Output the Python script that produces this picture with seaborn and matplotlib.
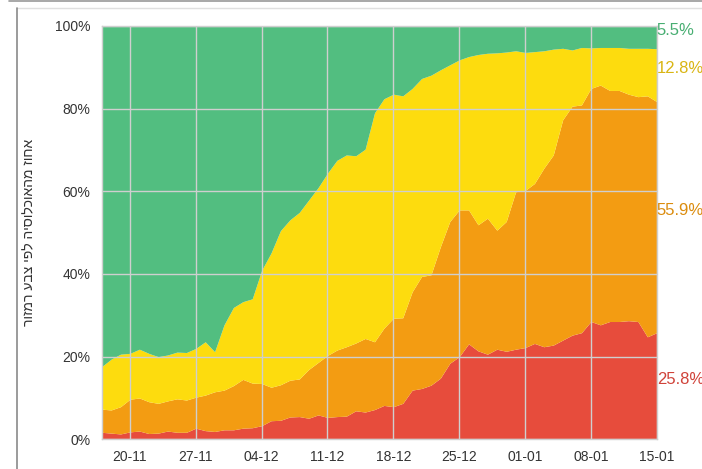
import seaborn as sns
import matplotlib.pyplot as plt
import matplotlib.dates as mdates
from matplotlib.lines import Line2D
import pandas as pd

# daily share of population by traffic-light colour (%), 17-11 .. 15-01
dates = pd.date_range('2020-11-17', '2021-01-15', freq='D')

red = [1.7, 1.5, 1.3, 1.8, 2.0, 1.4, 1.5, 2.0, 1.7, 1.7,
       2.7, 2.1, 1.9, 2.3, 2.3, 2.7, 2.8, 3.3, 4.5, 4.6,
       5.4, 5.5, 5.1, 5.9, 5.3, 5.5, 5.6, 6.9, 6.6, 7.2,
       8.2, 7.9, 8.7, 11.9, 12.3, 13.1, 14.8, 18.4, 20.0, 23.1,
       21.4, 20.6, 21.8, 21.3, 21.8, 22.2, 23.2, 22.4, 22.8, 24.0,
       25.2, 25.8, 28.5, 27.7, 28.5, 28.5, 28.7, 28.5, 24.8, 25.8]
orange = [5.6, 5.6, 6.6, 7.9, 8.0, 7.7, 7.2, 7.3, 8.1, 7.8,
          7.5, 8.6, 9.6, 9.6, 10.7, 11.8, 10.8, 10.2, 8.1, 8.6,
          8.9, 9.1, 11.8, 12.7, 15.0, 16.1, 16.8, 16.4, 17.8, 16.4,
          18.7, 21.4, 20.7, 23.8, 27.1, 26.7, 31.8, 34.3, 35.5, 32.4,
          30.5, 32.9, 28.8, 31.4, 38.1, 38.0, 38.7, 43.2, 46.0, 53.3,
          55.4, 55.1, 56.4, 58.0, 55.9, 55.9, 54.8, 54.4, 58.3, 55.9]
yellow = [10.3, 12.3, 12.7, 11.1, 11.8, 11.7, 11.3, 11.1, 11.3, 11.5,
          11.8, 12.9, 9.7, 15.8, 18.9, 18.8, 20.4, 27.4, 32.5, 37.3,
          38.8, 40.3, 41.0, 42.3, 44.1, 45.9, 46.4, 45.3, 45.8, 55.4,
          55.5, 54.2, 53.7, 49.2, 47.9, 48.3, 42.8, 37.9, 36.3, 37.1,
          41.2, 39.9, 42.9, 41.0, 34.1, 33.4, 31.9, 28.4, 25.6, 17.3,
          13.6, 13.9, 9.8, 9.1, 10.4, 10.4, 11.1, 11.7, 11.5, 12.8]
green = [82.4, 80.6, 79.4, 79.2, 78.2, 79.2, 80.0, 79.6, 78.9, 79.0,
         78.0, 76.4, 78.8, 72.3, 68.1, 66.7, 66.0, 59.1, 54.9, 49.5,
         46.9, 45.1, 42.1, 39.1, 35.6, 32.5, 31.2, 31.4, 29.8, 21.0,
         17.6, 16.5, 16.9, 15.1, 12.7, 11.9, 10.6, 9.4, 8.2, 7.4,
         6.9, 6.6, 6.5, 6.3, 6.0, 6.4, 6.2, 6.0, 5.6, 5.4,
         5.8, 5.2, 5.3, 5.2, 5.2, 5.2, 5.4, 5.4, 5.4, 5.5]

colors = ['#E74C3C', '#F39C12', '#FDDC0E', '#52BE80']
label_colors = ['#D0433A', '#DB8C0E', '#D9B514', '#48AE72']
end_labels = ['25.8%', '55.9%', '12.8%', '5.5%']

ylabel = 'אחוז מהאוכלוסיה לפי צבע רמזור'

sns.set_style('whitegrid')
plt.rcParams['font.family'] = ['Liberation Sans', 'DejaVu Sans']

fig = plt.figure(figsize=(7.02, 4.69), dpi=100)
ax = fig.add_axes([0.1449, 0.0633, 0.7906, 0.8813])

ax.stackplot(dates, red, orange, yellow, green, colors=colors, linewidth=0)

ax.set_xlim(dates[0], dates[-1])
ax.set_ylim(0, 100)
ax.set_axisbelow(False)
ax.grid(True, color='#cfcfcf', linewidth=1.0)

ax.set_yticks([0, 20, 40, 60, 80, 100])
ax.set_yticklabels(['0%', '20%', '40%', '60%', '80%', '100%'])
ax.xaxis.set_major_locator(mdates.DayLocator(bymonthday=[1, 4, 8, 11, 15, 18, 20, 25, 27]))
ticks = pd.date_range('2020-11-20', '2021-01-15', freq='7D')
ax.set_xticks(ticks)
ax.set_xticklabels([d.strftime('%d-%m') for d in ticks])
ax.tick_params(axis='both', length=0, labelsize=10, labelcolor='#333333', pad=8)

for s in ax.spines.values():
    s.set_color('#cfcfcf')
    s.set_linewidth(1.0)

ax.set_ylabel(ylabel[::-1], fontsize=10, color='#333333')
ax.yaxis.set_label_coords(-0.117, 0.5)

# labels at the right end, placed at each band's middle
last = [red[-1], orange[-1], yellow[-1], green[-1]]
base = 0
for val, txt, c in zip(last, end_labels, label_colors):
    mid = base + val / 2
    ax.annotate(txt, xy=(dates[-1], mid), xytext=(0, 5), textcoords='offset points',
                ha='left', va='center', fontsize=12, color=c, annotation_clip=False)
    base += val

# outer panel frame
fig.add_artist(Line2D([9 / 702, 1], [1 - 1.5 / 469, 1 - 1.5 / 469], color='#9a9a9a', lw=1.2))
fig.add_artist(Line2D([17 / 702, 1], [1 - 8 / 469, 1 - 8 / 469], color='#e0e0e0', lw=1.0))
fig.add_artist(Line2D([17 / 702, 17 / 702], [0, 1 - 8 / 469], color='#8a8a8a', lw=1.2))

fig.savefig('out.png', dpi=100)
